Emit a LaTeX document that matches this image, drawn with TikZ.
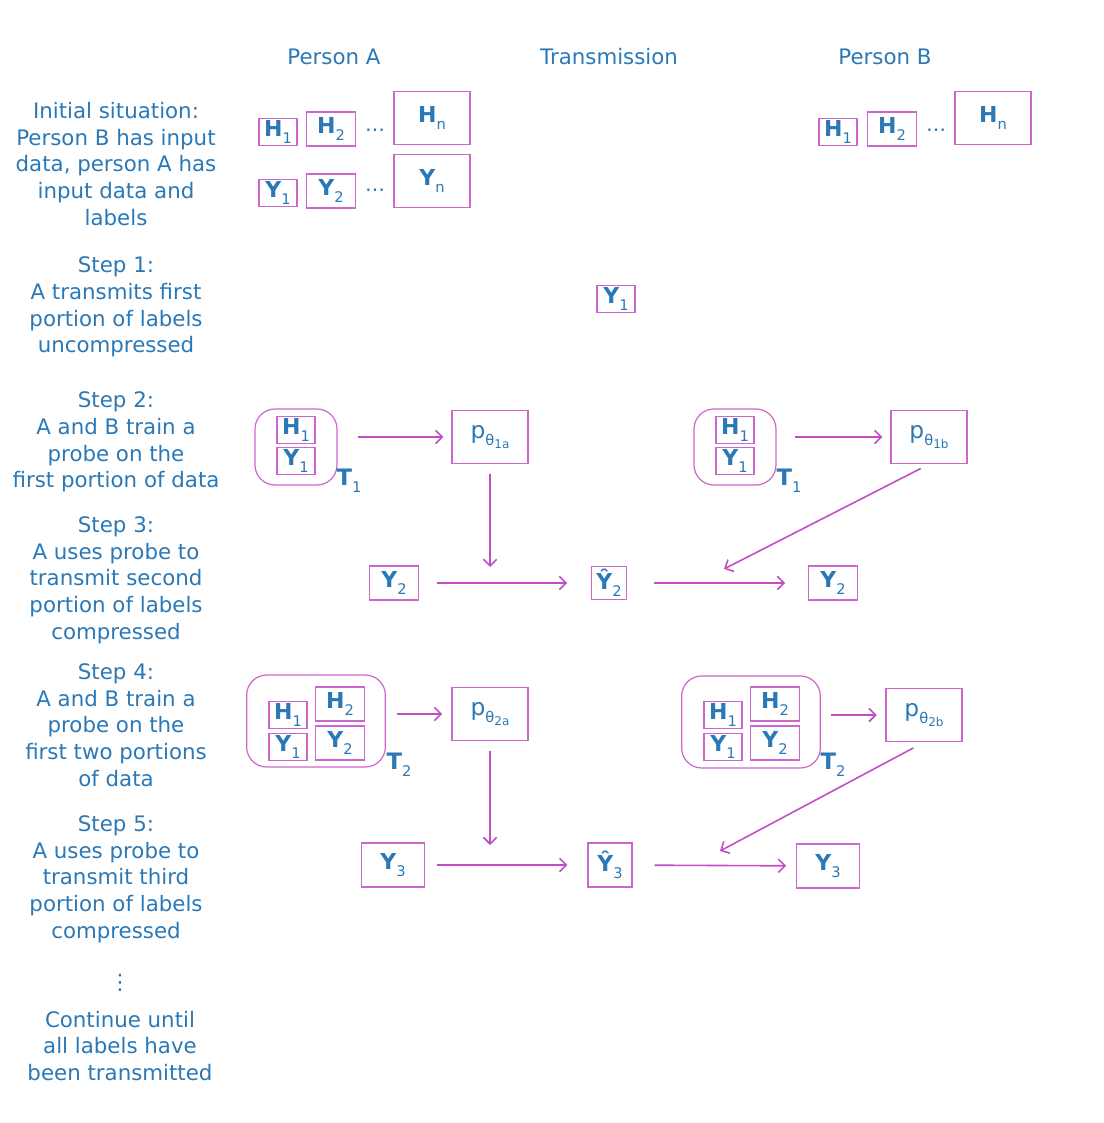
\documentclass[tikz,border=0pt]{standalone}
\usepackage{fontspec}
\setmainfont{DejaVu Sans}
\usetikzlibrary{arrows}
\usetikzlibrary{arrows.meta}
\usetikzlibrary{shapes}
\definecolor{txtblue}{HTML}{2A78B6}
\definecolor{boxpink}{HTML}{CC66CC}
\definecolor{arrowpink}{HTML}{C24EC6}
\newcommand{\lowidx}[1]{\raisebox{-0.6ex}{\fontsize{11}{12}\selectfont\mdseries #1}}
\newcommand{\lowlowidx}[1]{\raisebox{-0.4ex}{\fontsize{9}{10}\selectfont\mdseries #1}}
\newcommand{\symb}[2]{\textbf{#1}\lowidx{#2}}
\tikzstyle{colhead} = [font=\fontsize{16}{20}\selectfont]
\tikzstyle{stepdesc} = [align=center, font=\fontsize{16}{20}\selectfont]
\tikzstyle{symbox} = [rectangle, draw=boxpink, line width=0.9pt, inner sep=0pt, font=\fontsize{16.5}{18}\selectfont]
\tikzstyle{smallbox} = [symbox, minimum width=28.5pt, minimum height=20pt]
\tikzstyle{midbox} = [symbox, minimum width=37pt, minimum height=25.5pt]
\tikzstyle{bigbox} = [symbox, minimum width=57pt, minimum height=40pt]
\tikzstyle{hatbox} = [symbox, minimum width=26pt, minimum height=25pt]
\tikzstyle{lastbox} = [symbox, minimum width=47pt, minimum height=33pt]
\tikzstyle{lasthat} = [symbox, minimum width=33pt, minimum height=33pt]
\tikzstyle{probe} = [symbox, minimum width=57pt, minimum height=40pt, font=\fontsize{17.5}{18}\selectfont]
\tikzstyle{group} = [rectangle, rounded corners=15pt, draw=boxpink, line width=0.9pt]
\tikzstyle{dotsnode} = [font=\fontsize{15}{17}\selectfont]
\tikzstyle{tlabel} = [font=\fontsize{17}{18}\selectfont]
\tikzstyle{arrow} = [draw=arrowpink, line width=1.2pt, -{Straight Barb[length=5pt, width=10pt]}]

\begin{document}
\begin{tikzpicture}[x=0.75pt, y=-0.75pt, every node/.style={text=txtblue}]
\useasboundingbox (0,0) rectangle (1103,1123);

% column heads
\node [colhead] (headA) at (334,57) {Person A};
\node [colhead] (headT) at (609,57) {Transmission};
\node [colhead] (headB) at (885,57) {Person B};

% left descriptions
\node [stepdesc] (initdesc) at (116,164) {Initial situation:\\Person B has input\\data, person A has\\input data and\\labels};
\node [stepdesc] (step1desc) at (116,307) {Step 1:\\A transmits first\\portion of labels\\uncompressed};
\node [stepdesc] (step2desc) at (116,442) {Step 2:\\A and B train a\\probe on the\\first portion of data};
\node [stepdesc] (step3desc) at (116,580) {Step 3:\\A uses probe to\\transmit second\\portion of labels\\compressed};
\node [stepdesc] (step4desc) at (116,725) {Step 4:\\A and B train a\\probe on the\\first two portions\\of data};
\node [stepdesc] (step5desc) at (116,879) {Step 5:\\A uses probe to\\transmit third\\portion of labels\\compressed};
\node [stepdesc] (moredots) at (120,983) {⋮};
\node [stepdesc] (contdesc) at (120,1046) {Continue until\\all labels have\\been transmitted};

% initial data
\node [smallbox] (aH1) at (278,132) {\symb{H}{1}};
\node [midbox] (aH2) at (331,129) {\symb{H}{2}};
\node [dotsnode] (aHdots) at (375,130) {…};
\node [bigbox] (aHn) at (432,118) {\symb{H}{n}};
\node [smallbox] (aY1) at (278,193) {\symb{Y}{1}};
\node [midbox] (aY2) at (331,191) {\symb{Y}{2}};
\node [dotsnode] (aYdots) at (375,190) {…};
\node [bigbox] (aYn) at (432,181) {\symb{Y}{n}};

\node [smallbox] (bH1) at (838,132) {\symb{H}{1}};
\node [midbox] (bH2) at (892,129) {\symb{H}{2}};
\node [dotsnode] (bHdots) at (936,130) {…};
\node [bigbox] (bHn) at (993,118) {\symb{H}{n}};

% step 1
\node [smallbox] (tY1) at (616,299) {\symb{Y}{1}};

% step 2
\node [group, minimum width=61.5pt, minimum height=57pt] (grpA1) at (296,447) {};
\node [smallbox] (gA1H1) at (296,430) {\symb{H}{1}};
\node [smallbox] (gA1Y1) at (296,461) {\symb{Y}{1}};
\node [tlabel] (tA1) at (349,481) {\symb{T}{1}};
\node [probe] (pA1) at (490,437) {p\lowidx{θ\lowlowidx{1a}}};

\node [group, minimum width=61.5pt, minimum height=57pt] (grpB1) at (735,447) {};
\node [smallbox] (gB1H1) at (735,430) {\symb{H}{1}};
\node [smallbox] (gB1Y1) at (735,461) {\symb{Y}{1}};
\node [tlabel] (tB1) at (789,481) {\symb{T}{1}};
\node [probe] (pB1) at (929,437) {p\lowidx{θ\lowlowidx{1b}}};

\draw [arrow, shorten <=15pt, shorten >=6pt] (grpA1.east |- pA1) -- (pA1.west);
\draw [arrow, shorten <=14pt, shorten >=6pt] (grpB1.east |- pB1) -- (pB1.west);

% step 3
\node [midbox] (sY2) at (394,583) {\symb{Y}{2}};
\node [hatbox] (hatY2) at (609,583) {\symb{Ŷ}{2}};
\node [midbox] (rY2) at (833,583) {\symb{Y}{2}};
\coordinate (dropA1) at (490,567);
\coordinate (dropB1) at (724,569);

\draw [arrow, shorten <=7pt] (pA1.south) -- (dropA1);
\draw [arrow, shorten <=7pt] (pB1.south) -- (dropB1);
\draw [arrow, shorten <=13pt, shorten >=18pt] (sY2) -- (hatY2);
\draw [arrow, shorten <=20pt, shorten >=17pt] (hatY2) -- (rY2);

% step 4
\node [group, minimum width=104pt, minimum height=69pt] (grpA2) at (316,721) {};
\node [smallbox] (gA2H1) at (288,715) {\symb{H}{1}};
\node [smallbox] (gA2Y1) at (288,747) {\symb{Y}{1}};
\node [midbox] (gA2H2) at (340,704) {\symb{H}{2}};
\node [midbox] (gA2Y2) at (340,743) {\symb{Y}{2}};
\node [tlabel] (tA2) at (399,765) {\symb{T}{2}};
\node [probe] (pA2) at (490,714) {p\lowidx{θ\lowlowidx{2a}}};

\node [group, minimum width=104pt, minimum height=69pt] (grpB2) at (751,722) {};
\node [smallbox] (gB2H1) at (723,715) {\symb{H}{1}};
\node [smallbox] (gB2Y1) at (723,747) {\symb{Y}{1}};
\node [midbox] (gB2H2) at (775,704) {\symb{H}{2}};
\node [midbox] (gB2Y2) at (775,743) {\symb{Y}{2}};
\node [tlabel] (tB2) at (833,765) {\symb{T}{2}};
\node [probe] (pB2) at (924,715) {p\lowidx{θ\lowlowidx{2b}}};

\draw [arrow, shorten <=8pt, shorten >=7pt] (grpA2.east |- pA2) -- (pA2.west);
\draw [arrow, shorten <=7.5pt, shorten >=6.5pt] (grpB2.east |- pB2) -- (pB2.west);

% step 5
\node [lastbox] (sY3) at (393,865) {\symb{Y}{3}};
\node [lasthat] (hatY3) at (610,865) {\symb{Ŷ}{3}};
\node [lastbox] (rY3) at (828,866) {\symb{Y}{3}};
\coordinate (dropA2) at (490,845);
\coordinate (dropB2) at (720,851);

\draw [arrow, shorten <=7pt] (pA2.south) -- (dropA2);
\draw [arrow, shorten <=9pt] (pB2.south) -- (dropB2);
\draw [arrow, shorten <=9pt, shorten >=15pt] (sY3) -- (hatY3);
\draw [arrow, shorten <=16.5pt, shorten >=7.5pt] (hatY3) -- (rY3);

\end{tikzpicture}
\end{document}
